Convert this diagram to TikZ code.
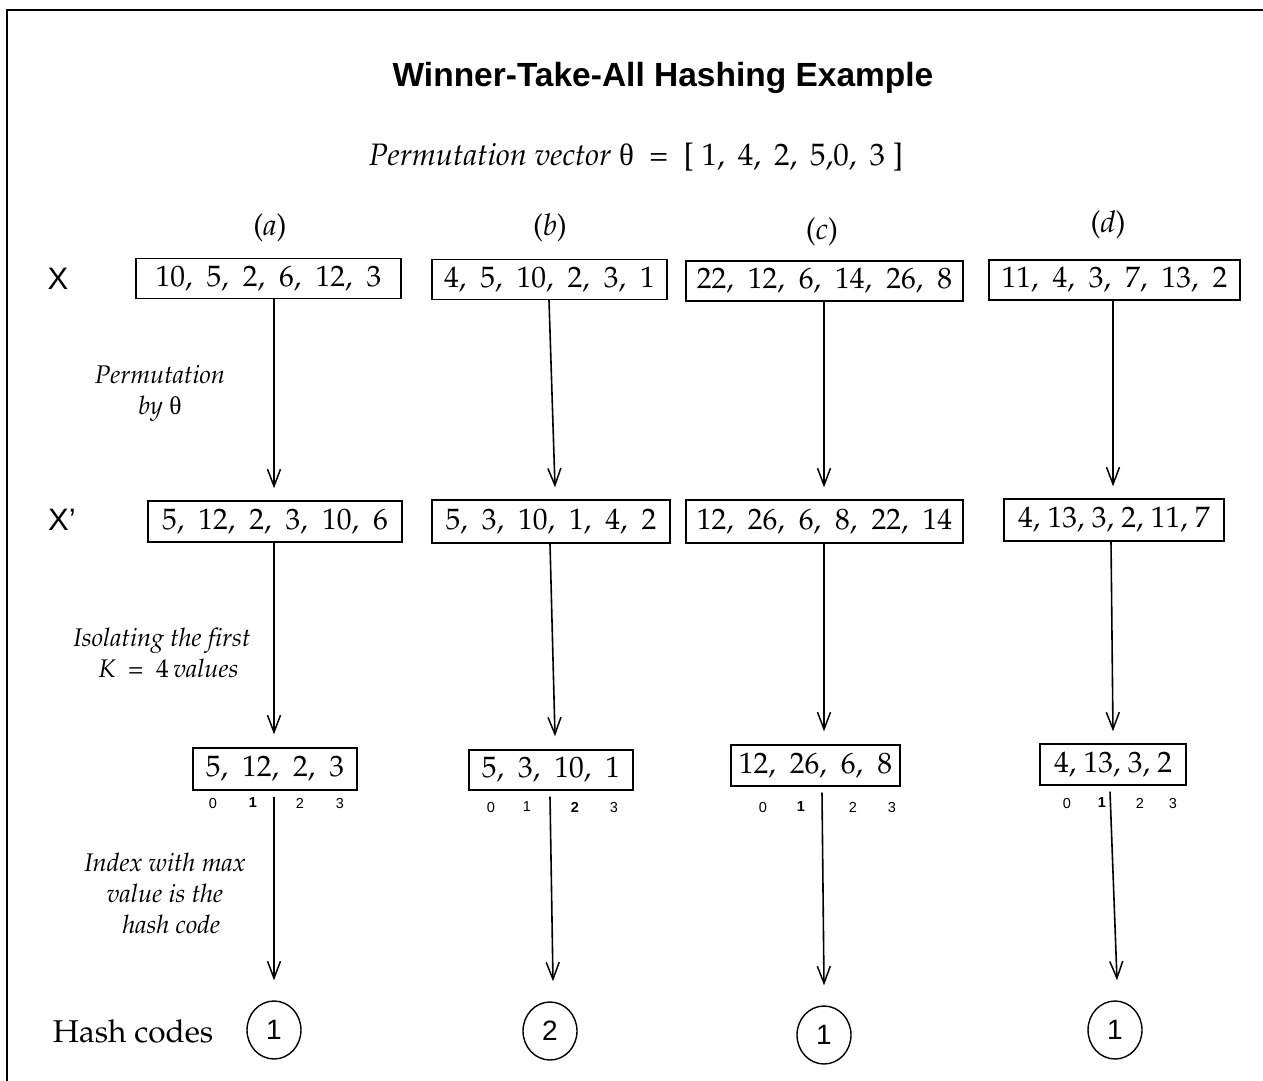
\documentclass[tikz,border=0pt]{standalone}
\usepackage[T1]{fontenc}
\usepackage{fontspec}
\setsansfont{Liberation Sans}
\newfontfamily\thetafont{Liberation Serif}
\usetikzlibrary{arrows.meta,shapes.geometric}
% Palatino (Type 1) for the serif texts
\newcommand{\pal}{\fontencoding{T1}\fontfamily{ppl}\selectfont}
\newcommand{\gp}{,\hspace{0.48em}}
\tikzset{
  vecbox/.style={draw, line width=1.4pt, inner sep=0pt, minimum height=40pt,
    font={\pal\fontsize{29.5}{32}\selectfont}},
  arr/.style={line width=1.6pt, -{Straight Barb[length=17pt,width=13pt,line width=1.5pt]}},
  side/.style={align=center, font={\pal\itshape\fontsize{25.5}{31}\selectfont}},
  colhead/.style={font={\pal\fontsize{30}{32}\selectfont}},
  rowlab/.style={font={\sffamily\fontsize{31}{33}\selectfont}},
  idx/.style={font={\sffamily\fontsize{14.5}{16}\selectfont}},
  idxb/.style={font={\sffamily\bfseries\fontsize{14.5}{16}\selectfont}},
  code/.style={draw, ellipse, line width=1.4pt, minimum width=54pt, minimum height=58pt, inner sep=0pt,
    font={\sffamily\fontsize{28}{30}\selectfont}}
}
\begin{document}
\begin{tikzpicture}[x=1pt, y=-1pt]
\useasboundingbox (0,0) rectangle (1263,1081);
% frame
\draw[line width=1.4pt] (7,1081) -- (7,10) -- (1263,10);

% title and permutation vector
\node[font={\sffamily\bfseries\fontsize{33.5}{38}\selectfont}] (title) at (663,78) {Winner-Take-All Hashing Example};
\node[font={\pal\fontsize{31}{34}\selectfont}] (perm) at (636,157)
  {\textit{Permutation vector} {\thetafont θ} \ = \ [\ 1,\ \,4,\ \,2,\ \,5,0,\ \,3\ ]};

% column headers
\node[colhead] (ha) at (270,228) {(\textit{a})};
\node[colhead] (hb) at (550,228) {(\textit{b})};
\node[colhead] (hc) at (822,232) {(\textit{c})};
\node[colhead] (hd) at (1108,225) {(\textit{d})};

% row labels
\node[rowlab] (lx) at (58,279) {X};
\node[rowlab] (lxp) at (62,520) {X’};
\node[font={\pal\fontsize{31.5}{34}\selectfont}] (lh) at (133,1031) {Hash codes};

% input vectors X
\node[vecbox, minimum width=265pt] (xa) at (268.5,278.5) {10\gp 5\gp 2\gp 6\gp 12\gp 3};
\node[vecbox, minimum width=235pt] (xb) at (549.5,279.5) {4\gp 5\gp 10\gp 2\gp 3\gp 1};
\node[vecbox, minimum width=277pt] (xc) at (824.5,281) {22\gp 12\gp 6\gp 14\gp 26\gp 8};
\node[vecbox, minimum width=251pt] (xd) at (1114.5,280) {11\gp 4\gp 3\gp 7\gp 13\gp 2};

% permuted vectors X'
\node[vecbox, minimum width=254pt, minimum height=41pt] (pa) at (275,521.5) {5\gp 12\gp 2\gp 3\gp 10\gp 6};
\node[vecbox, minimum width=238pt, minimum height=43pt] (pb) at (551,521.5) {5\gp 3\gp 10\gp 1\gp 4\gp 2};
\node[vecbox, minimum width=277pt, minimum height=43pt] (pc) at (824.5,521.5) {12\gp 26\gp 6\gp 8\gp 22\gp 14};
\node[vecbox, minimum width=220pt, minimum height=42pt] (pd) at (1114,520) {4, 13, 3, 2, 11, 7};

% first K values
\node[vecbox, minimum width=164pt, minimum height=42pt] (ka) at (275,769) {5\gp 12\gp 2\gp 3};
\node[vecbox, minimum width=164pt] (kb) at (551,770) {5\gp 3\gp 10\gp 1};
\node[vecbox, minimum width=169pt, minimum height=41pt] (kc) at (815.5,765.5) {12\gp 26\gp 6\gp 8};
\node[vecbox, minimum width=146pt, minimum height=41pt] (kd) at (1113,764.5) {4, 13, 3, 2};

% indices under the K values
\node[idx]  (a0) at (213,803) {0};
\node[idxb] (a1) at (253,803) {1};
\node[idx]  (a2) at (300,803) {2};
\node[idx]  (a3) at (340,803) {3};
\node[idx]  (b0) at (491,807) {0};
\node[idx]  (b1) at (527,807) {1};
\node[idxb] (b2) at (575,807) {2};
\node[idx]  (b3) at (614,807) {3};
\node[idx]  (c0) at (763,807) {0};
\node[idxb] (c1) at (801,807) {1};
\node[idx]  (c2) at (853,807) {2};
\node[idx]  (c3) at (892,807) {3};
\node[idx]  (d0) at (1067,803) {0};
\node[idxb] (d1) at (1102,803) {1};
\node[idx]  (d2) at (1140,803) {2};
\node[idx]  (d3) at (1173,803) {3};

% hash codes
\node[code] (ca) at (274,1030) {1};
\node[code] (cb) at (550,1031) {2};
\node[code] (cc) at (824,1035) {1};
\node[code] (cd) at (1115,1030) {1};

% step descriptions
\node[side] (s1) at (160,393) {Permutation\\by {\upshape\thetafont θ}};
\node[side] (s2) at (162,653) {Isolating the f{}irst\\\ \ \textit{K}\ \ {\upshape =\ \ 4}\,values};
\node[side] (s3) at (165,893) {Index with max\\value is the\\\ \ hash code};

% arrows
\draw[arr] ([xshift=5.5pt]xa.south) -- ([xshift=-1pt,yshift=12pt]pa.north);
\draw[arr] ([xshift=-1pt]pa.south) -- ([xshift=-1pt,yshift=13pt]ka.north);
\draw[arr] ([xshift=-1pt,yshift=-6pt]ka.south) -- ([yshift=20pt]ca.north);

\draw[arr] ([xshift=-0.5pt]xb.south) -- ([xshift=4pt,yshift=12pt]pb.north);
\draw[arr] ([xshift=-1pt]pb.south) -- ([xshift=4pt,yshift=13pt]kb.north);
\draw[arr] ([xshift=-1pt,yshift=-6pt]kb.south) -- ([xshift=3pt,yshift=20pt]cb.north);

\draw[arr] ([xshift=-0.5pt]xc.south) -- ([xshift=-0.5pt,yshift=12pt]pc.north);
\draw[arr] ([xshift=-0.5pt]pc.south) -- ([xshift=8.5pt,yshift=13pt]kc.north);
\draw[arr] ([xshift=6.5pt,yshift=-6pt]kc.south) -- ([yshift=20pt]cc.north);

\draw[arr] ([xshift=-1.5pt]xd.south) -- ([xshift=-1pt,yshift=12pt]pd.north);
\draw[arr] ([xshift=-3pt]pd.south) -- ([yshift=12pt]kd.north);
\draw[arr] ([xshift=-3pt,yshift=-6pt]kd.south) -- ([xshift=2pt,yshift=20pt]cd.north);
\end{tikzpicture}
\end{document}
